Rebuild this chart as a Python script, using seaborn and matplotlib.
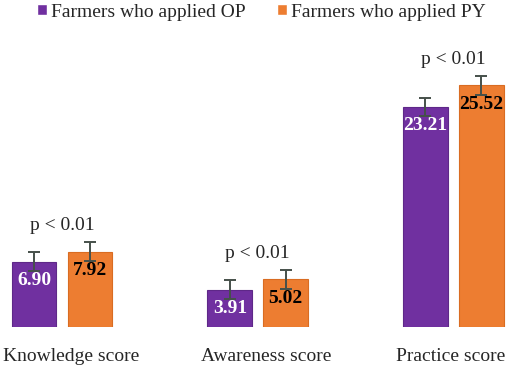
import numpy as np
import pandas as pd
import matplotlib
matplotlib.use("Agg")
import matplotlib.pyplot as plt
import matplotlib.transforms as mtransforms
import seaborn as sns

categories = ["Knowledge score", "Awareness score", "Practice score"]
groups = ["Farmers who applied OP", "Farmers who applied PY"]
op_means = [6.90, 3.91, 23.21]
py_means = [7.92, 5.02, 25.52]
op_err = [1.0, 1.0, 1.0]
py_err = [1.0, 1.0, 1.0]
p_labels = ["p < 0.01", "p < 0.01", "p < 0.01"]

colors = ["#7030A0", "#ED7D31"]
edges = ["#5E2888", "#D96C22"]

df = pd.DataFrame({
    "category": categories * 2,
    "group": [groups[0]] * 3 + [groups[1]] * 3,
    "score": op_means + py_means,
    "err": op_err + py_err,
})

sns.set_style("white")
plt.rcParams["font.family"] = "serif"
plt.rcParams["font.serif"] = ["Liberation Serif", "Times New Roman", "DejaVu Serif"]

fig = plt.figure(figsize=(5.1, 3.69), dpi=100)
ax = fig.add_axes([0, 0.1138, 1, 0.8862])

sns.barplot(data=df, x="category", y="score", hue="group", order=categories,
            hue_order=groups, palette=colors, saturation=1, width=0.572, gap=0.2,
            errorbar=None, ax=ax, legend=True)

# error bars, value labels
bar_containers = list(ax.containers)[:2]
for k, cont in enumerate(bar_containers):
    sub = df[df["group"] == groups[k]].set_index("category").loc[categories]
    for bar, (_, row) in zip(cont.patches, sub.iterrows()):
        bar.set_edgecolor(edges[k])
        bar.set_linewidth(0.8)
        xc = bar.get_x() + bar.get_width() / 2
        h = bar.get_height()
        ax.errorbar(xc, h, yerr=row["err"], fmt="none", ecolor="#45504a",
                    elinewidth=1.4, capsize=4, capthick=1.4, zorder=5)
        ax.text(xc, h - 2.0, f"{row['score']:.2f}", ha="center", va="center",
                fontsize=14, fontweight="bold",
                color="white" if k == 0 else "black", zorder=6)

# p values above each pair
for i, cat in enumerate(categories):
    top = max(op_means[i] + op_err[i], py_means[i] + py_err[i])
    ax.text(i, top + 1.75, p_labels[i], ha="center", va="center", fontsize=14)

ax.set_xlim(-0.317, 2.289)
ax.set_ylim(0, 34.5)
ax.set_xlabel("")
ax.set_ylabel("")
ax.set_yticks([])
sns.despine(ax=ax, left=True, bottom=True)
ax.tick_params(axis="x", length=0, pad=15, labelsize=14)

# category labels sit slightly off the group centres in the original
shifts = [9, 8, -3]
for lab, dx in zip(ax.get_xticklabels(), shifts):
    lab.set_transform(lab.get_transform() +
                      mtransforms.ScaledTranslation(dx / 100, 0, fig.dpi_scale_trans))

handles, labels = ax.get_legend_handles_labels()
ax.get_legend().remove()
fig.legend(handles, labels, loc="center", bbox_to_anchor=(0.512, 0.967), ncol=2,
           frameon=False, fontsize=14, handlelength=0.52, handleheight=0.52,
           handletextpad=0.2, columnspacing=1.6, borderaxespad=0)

fig.savefig("out.png", dpi=100)
